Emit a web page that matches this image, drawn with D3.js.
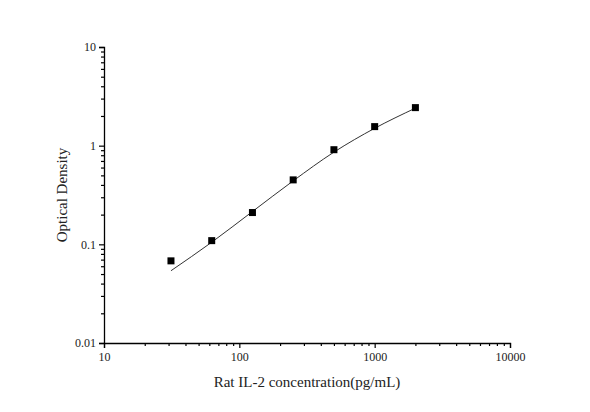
<!DOCTYPE html>
<html><head><meta charset="utf-8">
<script src="https://cdn.jsdelivr.net/npm/d3@7"></script>
<style>body{margin:0;background:#fff}</style></head>
<body><svg id="c" width="590" height="412"></svg>
<script>
// standard points
var conc = [31.25, 62.5, 125, 250, 500, 1000, 2000];
var od = [0.068, 0.109, 0.21, 0.45, 0.91, 1.56, 2.43];
// fitted curve
var fitX = [31.25, 62.5, 125, 250, 500, 1000, 2000];
var fitY = [0.054, 0.105, 0.215, 0.44, 0.86, 1.5, 2.4];
var xTicks = [10, 100, 1000, 10000];
var yTicks = [0.01, 0.1, 1, 10];

var svg = d3.select("#c");
var x = d3.scaleLog().domain([10, 10000]).range([104, 510]);
var y = d3.scaleLog().domain([0.01, 10]).range([343, 47]);
var font = "Liberation Serif, Times New Roman, serif";

// minor ticks
var minorX = [], minorY = [];
[10, 100, 1000].forEach(function (d) { for (var k = 2; k < 10; k++) minorX.push(d * k); });
[0.01, 0.1, 1].forEach(function (d) { for (var k = 2; k < 10; k++) minorY.push(d * k); });

var xAxis = svg.append("g").attr("transform", "translate(0,343)")
    .call(d3.axisBottom(x).tickValues(xTicks).tickFormat(d3.format("d")).tickSize(5).tickPadding(4));
svg.append("g").attr("transform", "translate(0,343)")
    .call(d3.axisBottom(x).tickValues(minorX).tickFormat("").tickSize(3))
    .select(".domain").remove();
var yAxis = svg.append("g").attr("transform", "translate(104,0)")
    .call(d3.axisLeft(y).tickValues(yTicks).tickFormat(function (d) { return String(d); }).tickSize(5).tickPadding(3));
svg.append("g").attr("transform", "translate(104,0)")
    .call(d3.axisLeft(y).tickValues(minorY).tickFormat("").tickSize(3))
    .select(".domain").remove();
svg.selectAll(".domain").attr("stroke-width", 1.3);
svg.selectAll(".tick line").attr("stroke-width", 1.2);
svg.selectAll(".tick text").attr("font-family", font).attr("font-size", 12).attr("fill", "#222");

var line = d3.line().x(function (d, i) { return x(fitX[i]); }).y(function (d) { return y(d); })
    .curve(d3.curveMonotoneX);
svg.append("path").datum(fitY).attr("d", line).attr("fill", "none").attr("stroke", "#333").attr("stroke-width", 1);

svg.selectAll("rect.pt").data(od).enter().append("rect").attr("class", "pt")
    .attr("x", function (d, i) { return x(conc[i]) - 3.5; })
    .attr("y", function (d) { return y(d) - 3.5; })
    .attr("width", 7).attr("height", 7).attr("fill", "#000");

svg.append("text").text("Rat IL-2 concentration(pg/mL)")
    .attr("x", 307).attr("y", 387).attr("text-anchor", "middle")
    .attr("font-family", font).attr("font-size", 15).attr("fill", "#222");
svg.append("text").text("Optical Density")
    .attr("transform", "translate(67,195) rotate(-90)").attr("text-anchor", "middle")
    .attr("font-family", font).attr("font-size", 15).attr("fill", "#222");
</script></body></html>
